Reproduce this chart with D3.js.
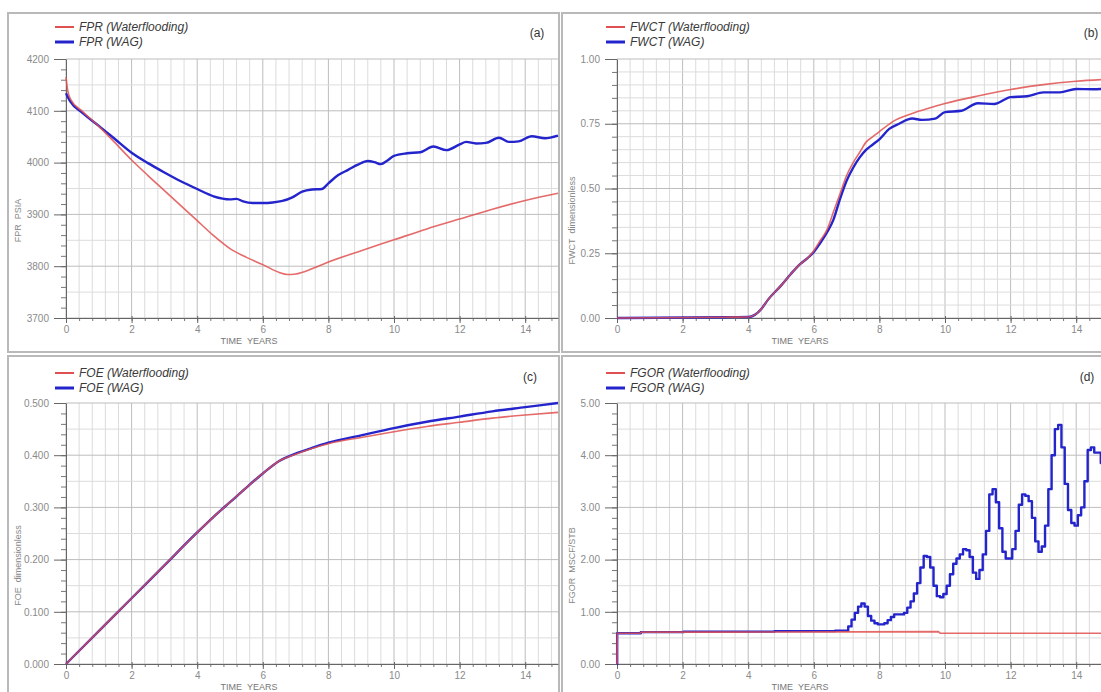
<!DOCTYPE html>
<html><head><meta charset="utf-8">
<script src="https://cdn.jsdelivr.net/npm/d3@7"></script>
<style>body{margin:0;background:#fff}svg{display:block}text{font-family:"Liberation Sans",Arial,sans-serif}</style>
</head><body><svg id="chart" width="1101" height="692"></svg>
<script>
// ---------- DATA ----------
const xTickLabels = [0, 2, 4, 6, 8, 10, 12, 14];

// (a) FPR
const fprTicks = [3700, 3800, 3900, 4000, 4100, 4200];
const fprWaterT = [0, 0.05, 0.15, 0.5, 1, 1.5, 2, 2.5, 3, 3.5, 4, 4.5, 5, 5.5, 6, 6.5, 6.75, 7, 7.5, 8, 9, 10, 11, 12, 13, 14, 15];
const fprWaterV = [4165, 4140, 4121, 4099, 4070, 4038, 4005, 3975, 3946, 3917, 3888, 3859, 3834, 3817, 3803, 3788, 3784, 3785, 3795, 3808, 3830, 3851, 3872, 3891, 3910, 3927, 3941];
const fprWagT = [0, 0.13, 0.5, 1, 1.5, 2, 2.5, 3, 3.5, 4, 4.5, 5, 5.2, 5.4, 5.7, 6, 6.3, 6.6, 6.9, 7.2, 7.5, 7.8, 8, 8.3, 8.6, 8.9, 9.2, 9.4, 9.6, 9.8, 10, 10.4, 10.8, 11.2, 11.6, 12, 12.2, 12.5, 12.8, 13.2, 13.5, 13.8, 14.2, 14.6, 15];
const fprWagV = [4134, 4118, 4096, 4071, 4045, 4019, 3999, 3981, 3964, 3949, 3935, 3929, 3930, 3925, 3922, 3922, 3923, 3926, 3933, 3944, 3948, 3949, 3960, 3976, 3986, 3996, 4003, 4001, 3997, 4004, 4013, 4018, 4020, 4031, 4024, 4035, 4040, 4037, 4038, 4048, 4040, 4041, 4051, 4047, 4052];

// (b) FWCT
const fwctTicks = [0, 0.25, 0.5, 0.75, 1.0];
const fwctWaterT = [0, 3.3, 4, 4.2, 4.4, 4.6, 5, 5.3, 5.6, 5.8, 6, 6.2, 6.4, 6.6, 6.8, 7, 7.2, 7.4, 7.6, 7.8, 8, 8.5, 9, 9.5, 10, 11, 12, 13, 14, 15];
const fwctWaterV = [0, 0.003, 0.004, 0.012, 0.035, 0.07, 0.125, 0.17, 0.21, 0.23, 0.26, 0.30, 0.34, 0.41, 0.48, 0.55, 0.60, 0.64, 0.68, 0.70, 0.72, 0.765, 0.79, 0.81, 0.828, 0.857, 0.882, 0.901, 0.914, 0.922];
const fwctWagT = [0, 3.3, 4, 4.2, 4.4, 4.6, 5, 5.3, 5.6, 5.8, 6, 6.2, 6.4, 6.6, 6.8, 7, 7.2, 7.4, 7.6, 7.8, 8, 8.3, 8.6, 9, 9.3, 9.7, 10, 10.5, 11, 11.5, 12, 12.5, 13, 13.5, 14, 14.5, 15];
const fwctWagV = [0, 0.003, 0.004, 0.012, 0.035, 0.07, 0.125, 0.17, 0.21, 0.23, 0.255, 0.29, 0.33, 0.38, 0.46, 0.53, 0.58, 0.62, 0.65, 0.67, 0.69, 0.73, 0.75, 0.77, 0.765, 0.77, 0.795, 0.80, 0.829, 0.826, 0.853, 0.856, 0.871, 0.871, 0.884, 0.883, 0.886];

// (c) FOE
const foeTicks = [0, 0.1, 0.2, 0.3, 0.4, 0.5];
const foeT = [0, 1, 2, 3, 4, 4.5, 5, 5.5, 6, 6.5, 7, 7.5, 8, 9, 10, 11, 12, 13, 14, 15];
const foeWaterV = [0, 0.063, 0.126, 0.189, 0.252, 0.282, 0.31, 0.338, 0.365, 0.389, 0.402, 0.413, 0.422, 0.434, 0.445, 0.455, 0.463, 0.471, 0.477, 0.482];
const foeWagV = [0, 0.063, 0.126, 0.189, 0.252, 0.282, 0.31, 0.338, 0.365, 0.389, 0.403, 0.414, 0.424, 0.438, 0.452, 0.464, 0.474, 0.484, 0.492, 0.500];

// (d) FGOR
const fgorTicks = [0, 1, 2, 3, 4, 5];
const fgorWaterT = [0, 0.01, 0.7, 0.75, 3.3, 9.8, 9.85, 15];
const fgorWaterV = [0, 0.59, 0.59, 0.61, 0.61, 0.62, 0.59, 0.59];
const fgorWagT = [0, 0.01, 0.7, 0.75, 3.3, 6.3, 7.0, 7.1, 7.2, 7.3, 7.4, 7.5, 7.6, 7.7, 7.8, 7.9, 8.0, 8.1, 8.2, 8.3, 8.4, 8.5, 8.6, 8.7, 8.8, 8.9, 9.0, 9.1, 9.2, 9.3, 9.4, 9.5, 9.6, 9.7, 9.8, 9.9, 10.0, 10.1, 10.2, 10.3, 10.4, 10.5, 10.6, 10.7, 10.8, 10.9, 11.0, 11.1, 11.2, 11.3, 11.4, 11.5, 11.6, 11.7, 11.8, 11.9, 12.0, 12.1, 12.2, 12.3, 12.4, 12.5, 12.6, 12.7, 12.8, 12.9, 13.0, 13.1, 13.2, 13.3, 13.4, 13.5, 13.6, 13.7, 13.8, 13.9, 14.0, 14.1, 14.2, 14.3, 14.4, 14.5, 14.6, 14.7, 14.8, 14.9, 15.0];
const fgorWagV = [0, 0.59, 0.59, 0.61, 0.62, 0.63, 0.64, 0.72, 0.85, 0.98, 1.10, 1.16, 1.10, 0.92, 0.83, 0.78, 0.76, 0.76, 0.78, 0.84, 0.90, 0.95, 0.95, 0.95, 0.98, 1.08, 1.20, 1.35, 1.55, 1.85, 2.07, 2.05, 1.85, 1.50, 1.30, 1.28, 1.34, 1.50, 1.72, 1.92, 2.02, 2.10, 2.20, 2.18, 2.05, 1.75, 1.63, 1.80, 2.10, 2.55, 3.25, 3.35, 3.10, 2.60, 2.15, 2.02, 2.02, 2.20, 2.55, 3.05, 3.25, 3.22, 3.12, 2.80, 2.35, 2.15, 2.25, 2.65, 3.35, 4.00, 4.50, 4.58, 4.15, 3.45, 2.95, 2.70, 2.65, 2.85, 3.00, 3.50, 4.10, 4.15, 4.05, 4.05, 3.85, 3.80, 3.80];

// ---------- LAYOUT ----------
const RED = "#e05050", BLUE = "#2424cc";
const svg = d3.select("#chart");
svg.append("rect").attr("width", 1101).attr("height", 692).attr("fill", "#fff");

const panels = [
  {tag:"(a)", frame:[8,13,551,339], x0:66, yTop:59, yBot:318, ticks:fprTicks, minor:20, grid:50, fmt:d3.format("d"),
   ytitle:"FPR  PSIA", ytx:18, legY:27, tagPos:[537,33], names:["FPR (Waterflooding)","FPR (WAG)"],
   water:[fprWaterT,fprWaterV], wag:[fprWagT,fprWagV], step:false},
  {tag:"(b)", frame:[562,13,560,339], x0:617, yTop:59, yBot:318, ticks:fwctTicks, minor:0.05, grid:0.05, fmt:d3.format(".2f"),
   ytitle:"FWCT  dimensionless", ytx:572, legY:27, tagPos:[1091,33], names:["FWCT (Waterflooding)","FWCT (WAG)"],
   water:[fwctWaterT,fwctWaterV], wag:[fwctWagT,fwctWagV], step:false},
  {tag:"(c)", frame:[8,356,551,360], x0:66, yTop:403, yBot:664, ticks:foeTicks, minor:0.02, grid:0.05, fmt:d3.format(".3f"),
   ytitle:"FOE  dimensionless", ytx:18, legY:373, tagPos:[530,377], names:["FOE (Waterflooding)","FOE (WAG)"],
   water:[foeT,foeWaterV], wag:[foeT,foeWagV], step:false},
  {tag:"(d)", frame:[562,356,560,360], x0:617, yTop:403, yBot:664, ticks:fgorTicks, minor:0.2, grid:0.5, fmt:d3.format(".2f"),
   ytitle:"FGOR  MSCF/STB", ytx:572, legY:373, tagPos:[1087,377], names:["FGOR (Waterflooding)","FGOR (WAG)"],
   water:[fgorWaterT,fgorWaterV], wag:[fgorWagT,fgorWagV], step:true}
];

const defs = svg.append("defs");

panels.forEach((p, i) => {
  const g = svg.append("g");
  g.append("rect").attr("x", p.frame[0]).attr("y", p.frame[1]).attr("width", p.frame[2]).attr("height", p.frame[3])
    .attr("fill", "#fff").attr("stroke", "#b9b9b9").attr("stroke-width", 2);

  const x = d3.scaleLinear().domain([0, 15]).range([p.x0, p.x0 + 492]);
  const ydom = d3.extent(p.ticks);
  const y = d3.scaleLinear().domain(ydom).range([p.yBot, p.yTop]);
  const xr = x.range();

  // grid
  const eps = 1e-9;
  const gx = d3.range(0, 15 + eps, 0.4);
  const gy = d3.range(ydom[0], ydom[1] + eps, p.grid);
  g.append("g").selectAll("line").data(gx).join("line")
    .attr("x1", d => x(d)).attr("x2", d => x(d)).attr("y1", p.yTop).attr("y2", p.yBot)
    .attr("stroke", d => (Math.abs(d / 2 - Math.round(d / 2)) < 1e-6) ? "#bdbdbd" : "#dcdcdc").attr("stroke-width", 1);
  g.append("g").selectAll("line").data(gy).join("line")
    .attr("x1", xr[0]).attr("x2", xr[1]).attr("y1", d => y(d)).attr("y2", d => y(d))
    .attr("stroke", d => p.ticks.some(t => Math.abs(t - d) < 1e-6) ? "#bdbdbd" : "#dcdcdc").attr("stroke-width", 1);

  // y minor ticks
  const minorY = d3.range(ydom[0], ydom[1] + eps, p.minor);
  g.append("g").attr("transform", `translate(${p.x0},0)`)
    .call(d3.axisLeft(y).tickValues(minorY).tickSize(5).tickFormat(""))
    .call(a => a.select(".domain").remove())
    .call(a => a.selectAll("line").attr("stroke", "#777"));
  // y major axis
  g.append("g").attr("transform", `translate(${p.x0},0)`)
    .call(d3.axisLeft(y).tickValues(p.ticks).tickSize(12).tickPadding(5).tickFormat(p.fmt).tickSizeOuter(0))
    .call(a => a.select(".domain").attr("stroke", "#666"))
    .call(a => a.selectAll("line").attr("stroke", "#666"))
    .call(a => a.selectAll("text").attr("fill", "#8a8a8a").style("font-size", "10px"));

  // x minor ticks
  g.append("g").attr("transform", `translate(0,${p.yBot})`)
    .call(d3.axisBottom(x).tickValues(gx).tickSize(3).tickFormat(""))
    .call(a => a.select(".domain").remove())
    .call(a => a.selectAll("line").attr("stroke", "#777"));
  // x major axis
  g.append("g").attr("transform", `translate(0,${p.yBot})`)
    .call(d3.axisBottom(x).tickValues(xTickLabels).tickSize(5).tickPadding(3).tickSizeOuter(0))
    .call(a => a.select(".domain").attr("stroke", "#666"))
    .call(a => a.selectAll("line").attr("stroke", "#666").attr("y1", -2))
    .call(a => a.selectAll("text").attr("fill", "#8a8a8a").style("font-size", "10px"));

  // titles
  g.append("text").attr("x", p.x0 + 183).attr("y", p.yBot + 26).attr("text-anchor", "middle")
    .attr("fill", "#777").style("font-size", "9px").attr("xml:space", "preserve").text("TIME  YEARS");
  g.append("text").attr("transform", `translate(${p.ytx},${(p.yTop + p.yBot) / 2 + 32}) rotate(-90)`)
    .attr("text-anchor", "middle").attr("dominant-baseline", "central")
    .attr("fill", "#888").style("font-size", "9px").attr("xml:space", "preserve").text(p.ytitle);

  // tag
  g.append("text").attr("x", p.tagPos[0]).attr("y", p.tagPos[1]).attr("text-anchor", "middle").attr("dominant-baseline", "central")
    .attr("fill", "#333").style("font-size", "12px").text(p.tag);

  // legend
  [[RED, 2, p.names[0]], [BLUE, 3, p.names[1]]].forEach((l, k) => {
    const ly = p.legY + k * 15;
    g.append("line").attr("x1", p.x0 - 11).attr("x2", p.x0 + 8).attr("y1", ly).attr("y2", ly)
      .attr("stroke", l[0]).attr("stroke-width", l[1]);
    g.append("text").attr("x", p.x0 + 13).attr("y", ly).attr("dominant-baseline", "central")
      .attr("fill", "#3a3a3a").style("font-size", "12px").style("font-style", "italic").text(l[2]);
  });

  // clip
  const cid = "clip" + i;
  defs.append("clipPath").attr("id", cid).append("rect")
    .attr("x", xr[0] - 2).attr("y", p.yTop - 4).attr("width", Math.min(xr[1], 1101) - xr[0] + 4).attr("height", p.yBot - p.yTop + 6);

  const toPts = (s) => s[0].map((t, j) => [t, s[1][j]]);
  const smooth = p.step ? d3.curveLinear : d3.curveMonotoneX;
  const lineWater = d3.line().x(d => x(d[0])).y(d => y(d[1])).curve(smooth);
  const lineWag = d3.line().x(d => x(d[0])).y(d => y(d[1])).curve(p.step ? d3.curveStep : d3.curveMonotoneX);
  const lg = g.append("g").attr("clip-path", `url(#${cid})`);
  lg.append("path").attr("d", lineWag(toPts(p.wag))).attr("fill", "none").attr("stroke", BLUE)
    .attr("stroke-width", 2.4).attr("stroke-linejoin", "round");
  lg.append("path").attr("d", lineWater(toPts(p.water))).attr("fill", "none").attr("stroke", RED)
    .attr("stroke-width", 1.6).attr("stroke-opacity", 0.85).attr("stroke-linejoin", "round");
});
</script></body></html>
